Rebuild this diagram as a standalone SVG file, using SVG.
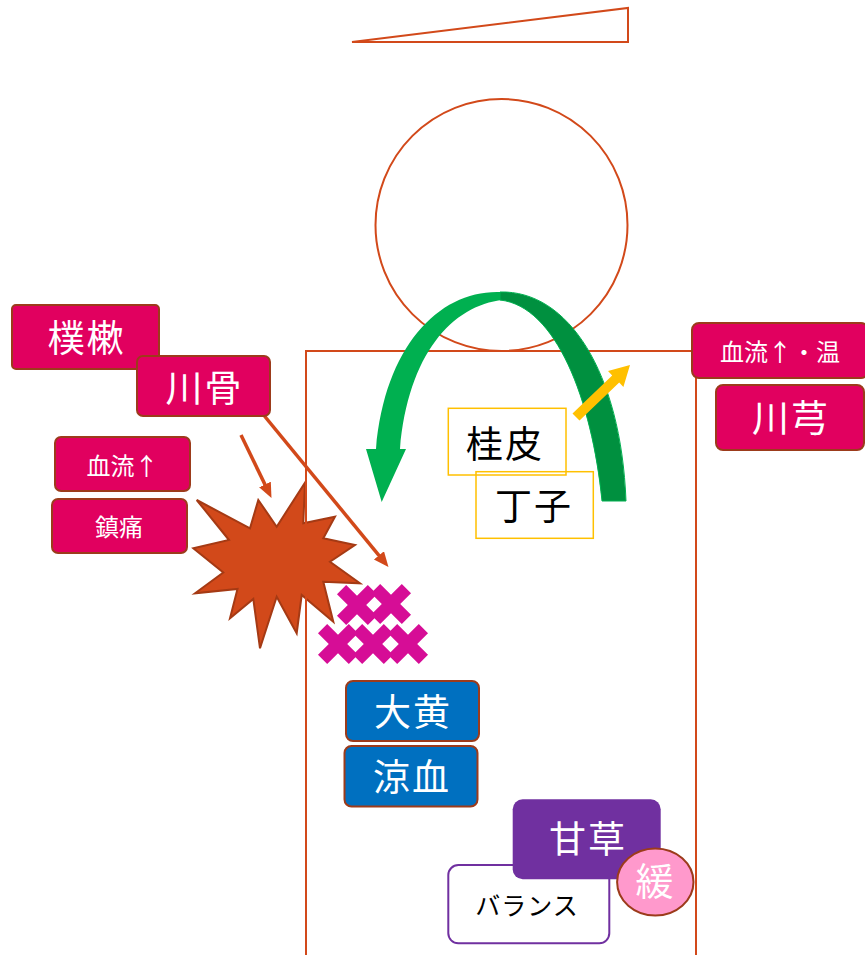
<svg xmlns="http://www.w3.org/2000/svg" width="865" height="955" viewBox="0 0 865 955">
  <style>
    .ol { fill: none; stroke: #D2491A; stroke-width: 2; }
    .mag { fill: #E1005F; stroke: #9C3B1B; stroke-width: 2; }
    .blu { fill: #0070C0; stroke: #9C3B1B; stroke-width: 2; }
    .ylw { fill: none; stroke: #FFC000; stroke-width: 1.5; }
    .t { font-family: "Noto Sans CJK JP", "Noto Sans", sans-serif; text-anchor: middle; }
    .w { fill: #FFFFFF; }
    .k { fill: #000000; }
    .big { font-size: 37px; letter-spacing: 2px; }
    .sm { font-size: 24px; }
    .xm { fill: #D60D96; }
  </style>
  <defs>
    <marker id="ah" markerUnits="userSpaceOnUse" markerWidth="16" markerHeight="14" refX="7" refY="6.5" orient="auto">
      <path d="M0,0 L15,6.5 L0,13 Z" fill="#D2491A"/>
    </marker>
    <path id="cross" transform="rotate(45)" d="M-6.5,-21.8 H6.5 V-6.5 H21.8 V6.5 H6.5 V21.8 H-6.5 V6.5 H-21.8 V-6.5 H-6.5 Z"/>
  </defs>

  <!-- hat -->
  <polygon id="hat" class="ol" points="352,42 628,8 628,42"/>

  <!-- head -->
  <circle id="head" class="ol" cx="501.5" cy="225" r="126"/>

  <!-- clots -->
  <g id="clots" class="xm">
    <use href="#cross" x="357" y="605"/>
    <use href="#cross" x="391" y="604"/>
    <use href="#cross" x="338" y="644"/>
    <use href="#cross" x="373" y="644"/>
    <use href="#cross" x="408" y="644"/>
  </g>

  <!-- pain burst -->
  <polygon id="burst" fill="#D2491A" stroke="#A53A14" stroke-width="2" stroke-linejoin="miter"
    points="196.7,500 250,528.3 258.3,500 276.7,526.7 305,482.7 303.3,523.3 335,516.7 323.3,538.3 355,545 330,561.7 360,583.3 323.3,581.7 333.3,621.7 301.7,595 296.7,633.3 276.7,596.7 260,648.3 253.3,599 230,618.3 237.5,589 195,593.3 223.3,572.5 193.3,548.3 229,540"/>

  <!-- body -->
  <path id="body" class="ol" d="M306,960 V351 H696 V960"/>

  <!-- green circulation arrow -->
  <g id="circulation">
    <path d="M500,292 C440,290 385,345 376,449 L366,449 L381.7,502 L406,449 L400,449 C408,355 452,305 503,300 Z" fill="#00B050"/>
    <path d="M500,292 C568,290 621,372 626,501 L602,501 C592,400 556,306 500,300 Z" fill="#00903F" stroke="#00B050" stroke-width="1"/>
  </g>

  <!-- connectors -->
  <g id="connectors">
    <line x1="241" y1="435" x2="268" y2="490.8" stroke="#D2491A" stroke-width="3.5" marker-end="url(#ah)"/>
    <line x1="262" y1="413" x2="383.4" y2="560.8" stroke="#D2491A" stroke-width="3.5" marker-end="url(#ah)"/>
    <polygon fill="#FFC000" points="572.5,413.4 612.2,375.4 608,371.1 630,365 623.4,386.9 619.2,382.6 579.5,420.6"/>
  </g>

  <!-- left labels -->
  <g id="bokusoku">
    <rect class="mag" x="12" y="305" width="147" height="64" rx="4"/>
    <text class="t w big" x="86.5" y="352">樸樕</text>
  </g>
  <g id="senkotsu">
    <rect class="mag" x="137" y="356" width="133" height="60" rx="6"/>
    <text class="t w big" x="204.5" y="402">川骨</text>
  </g>
  <g id="ketsuryu">
    <rect class="mag" x="55" y="437" width="135" height="54" rx="6"/>
    <text class="t w sm" x="122.5" y="475">血流↑</text>
  </g>
  <g id="chintsu">
    <rect class="mag" x="52" y="499" width="135" height="54" rx="6"/>
    <text class="t w sm" x="119" y="536">鎮痛</text>
  </g>

  <!-- right labels -->
  <g id="ketsuryu-on">
    <rect class="mag" x="692" y="323" width="176" height="55" rx="7"/>
    <text class="t w sm" x="780" y="361">血流↑・温</text>
  </g>
  <g id="senkyu">
    <rect class="mag" x="716" y="385" width="148" height="65" rx="7"/>
    <text class="t w big" x="791" y="432">川芎</text>
  </g>

  <!-- warming herbs -->
  <g id="keihi">
    <rect class="ylw" x="448.3" y="408.3" width="117.7" height="66.7"/>
    <text class="t k big" x="505" y="457.5">桂皮</text>
  </g>
  <g id="choji">
    <rect class="ylw" x="476" y="471.7" width="117.3" height="66.6"/>
    <text class="t k big" x="534" y="520">丁子</text>
  </g>

  <!-- cooling herbs -->
  <g id="daio">
    <rect class="blu" x="346" y="681" width="133" height="60" rx="7"/>
    <text class="t w big" x="413" y="726">大黄</text>
  </g>
  <g id="ryoketsu">
    <rect class="blu" x="344.5" y="746" width="133" height="60.5" rx="7"/>
    <text class="t w big" x="412" y="791">涼血</text>
  </g>

  <!-- licorice -->
  <g id="balance">
    <rect x="448.3" y="865" width="161" height="78.3" rx="10" fill="#FFFFFF" stroke="#7030A0" stroke-width="2"/>
    <text class="t k" font-size="25" letter-spacing="1" x="527" y="915">バランス</text>
  </g>
  <g id="kanzo">
    <rect x="512.7" y="799.3" width="148" height="80" rx="10" fill="#7030A0"/>
    <text class="t w big" x="588" y="853">甘草</text>
  </g>
  <g id="kan">
    <ellipse cx="655.3" cy="882" rx="38.2" ry="33.5" fill="#FF99CC" stroke="#9C3B1B" stroke-width="2"/>
    <text class="t w" font-size="38" x="654.5" y="895">緩</text>
  </g>
</svg>
